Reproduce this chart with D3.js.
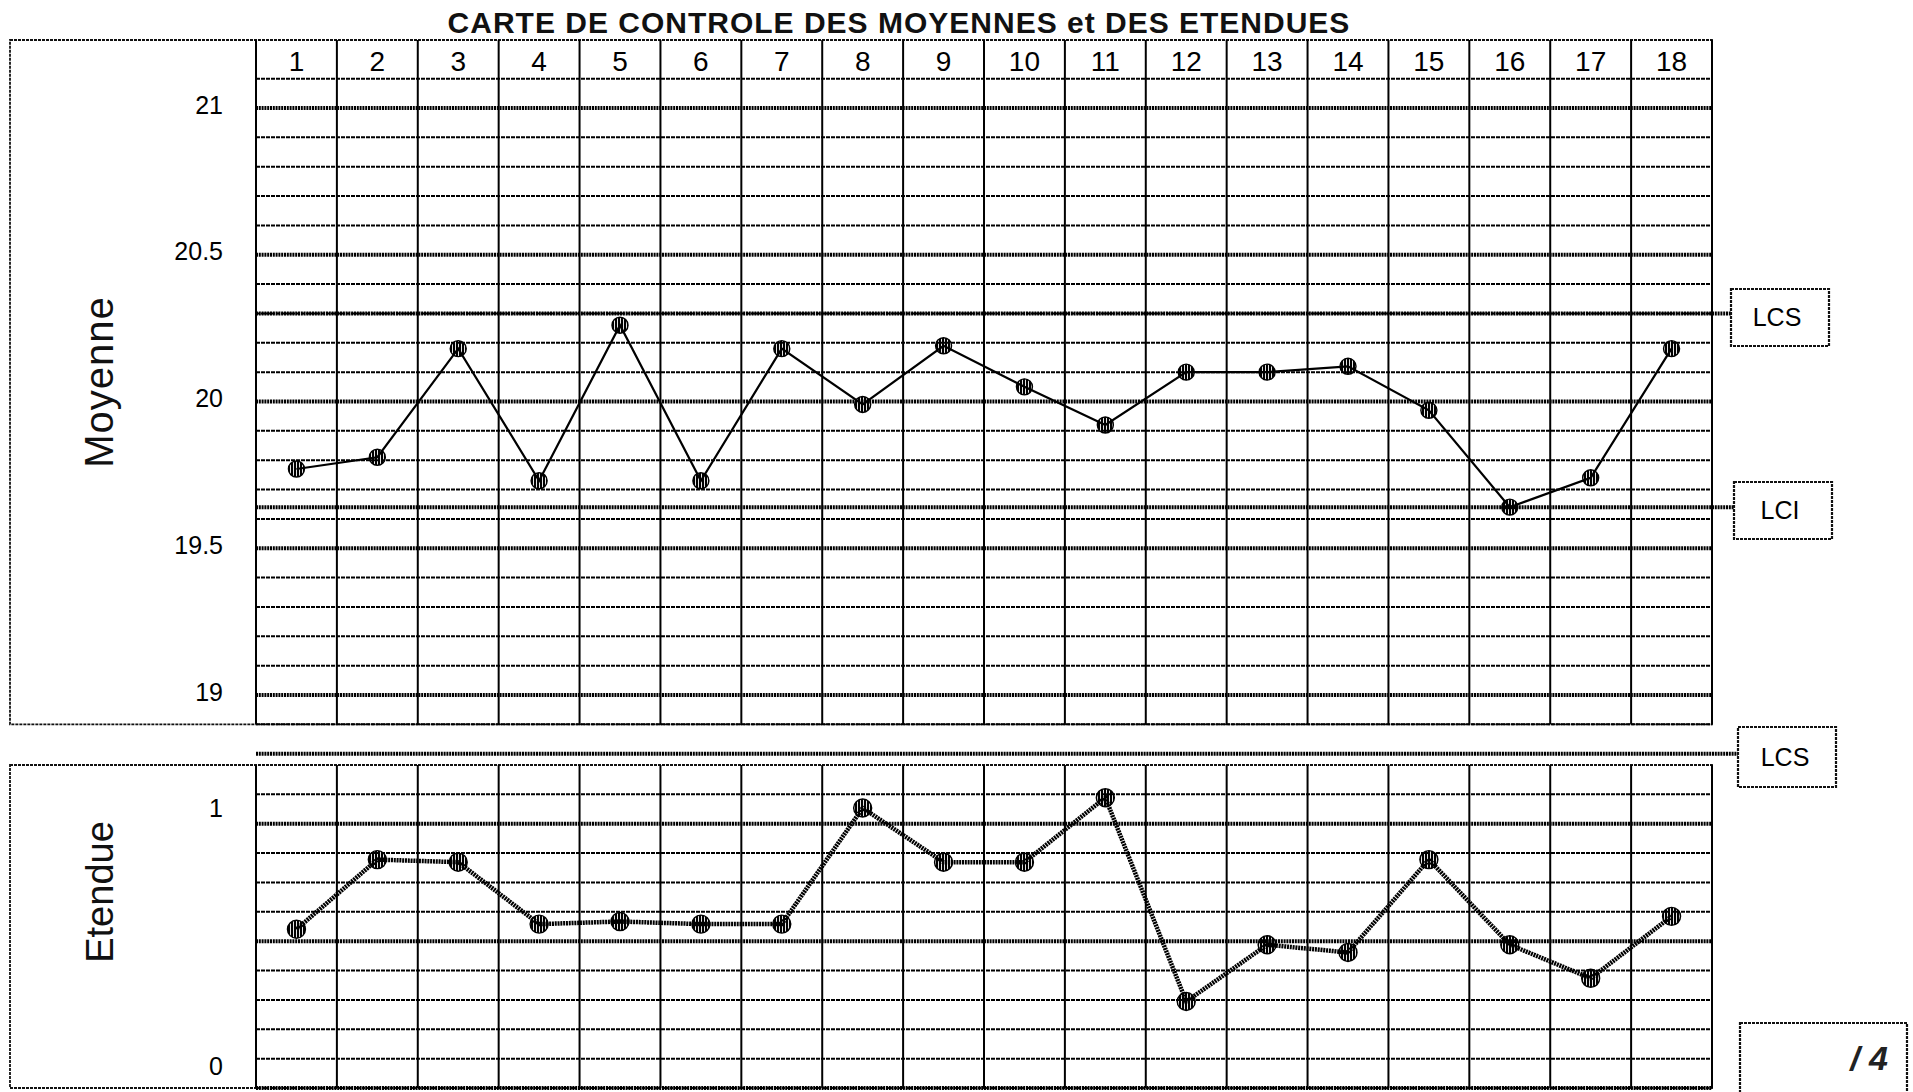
<!DOCTYPE html>
<html>
<head>
<meta charset="utf-8">
<script src="https://cdn.jsdelivr.net/npm/d3@7"></script>
<style>
  body { margin: 0; background: #fff; }
  svg { display: block; font-family: "Liberation Sans", Arial, sans-serif; }
</style>
</head>
<body>
<script>
// data
var samples = ['1', '2', '3', '4', '5', '6', '7', '8', '9', '10', '11', '12', '13', '14', '15', '16', '17', '18'];
var moyennes = [19.77, 19.81, 20.18, 19.73, 20.26, 19.73, 20.18, 19.99, 20.19, 20.05, 19.92, 20.10, 20.10, 20.12, 19.97, 19.64, 19.74, 20.18];
var etendues = [0.53, 0.80, 0.79, 0.55, 0.56, 0.55, 0.55, 1.00, 0.79, 0.79, 1.04, 0.25, 0.47, 0.44, 0.80, 0.47, 0.34, 0.58];
var moyTicks = [19, 19.5, 20, 20.5, 21];
var etTicks = [0, 1];
var lcsMoy = 20.3, lciMoy = 19.64;
var lcsEt = 1.21;
// printed form rows of the lower panel (index of the thick ones)
var etRows = 11;
var etThickRows = [2, 6, 11];

var width = 1913, height = 1092;
var gridLeft = 256, gridRight = 1712;

var svg = d3.select('body').append('svg')
    .attr('width', width)
    .attr('height', height);

// hatch used for the dots
var defs = svg.append('defs');
defs.append('pattern')
    .attr('id', 'hatch')
    .attr('patternUnits', 'userSpaceOnUse')
    .attr('width', 3).attr('height', 4)
    .append('rect')
    .attr('width', 2.1).attr('height', 4)
    .attr('fill', '#000');

var x = d3.scaleBand().domain(samples).range([gridLeft, gridRight]);
var yMoy = d3.scaleLinear().domain([19, 21]).range([695, 108]);
var yEt = d3.scaleLinear().domain([0, 1]).range([1066, 808]);
var yRow = d3.scaleLinear().domain([0, etRows]).range([765, 1088]);

function thick(sel) {
    return sel.attr('stroke', '#000').attr('stroke-width', 4).attr('stroke-dasharray', '2,0.8');
}
function thin(sel) {
    return sel.attr('stroke', '#000').attr('stroke-width', 2).attr('stroke-dasharray', '4,1');
}

// title
svg.append('text')
    .attr('x', 899).attr('y', 33)
    .attr('text-anchor', 'middle')
    .attr('font-size', 30).attr('font-weight', 'bold')
    .attr('fill', '#111')
    .attr('letter-spacing', 1)
    .text('CARTE DE CONTROLE DES MOYENNES et DES ETENDUES');

//////////////////////////// top panel : moyennes
var topPanel = svg.append('g');
var topY0 = 40, topY1 = yMoy(18.9);

topPanel.append('rect')
    .attr('x', 10).attr('y', topY0)
    .attr('width', gridRight - 10).attr('height', topY1 - topY0)
    .attr('fill', 'none').attr('stroke', '#111').attr('stroke-width', 1.8).attr('stroke-dasharray', '3,1');

// horizontal grid every 0.1, thick every 0.5
var moyGrid = d3.range(189, 212).map(function (v) { return v / 10; });
moyGrid.forEach(function (v) {
    var l = topPanel.append('line')
        .attr('x1', gridLeft).attr('x2', gridRight)
        .attr('y1', yMoy(v)).attr('y2', yMoy(v));
    if (Math.round(v * 10) % 5 == 0) thick(l); else thin(l);
});

// columns
x.domain().concat(['end']).forEach(function (s, i) {
    var xx = gridLeft + i * x.bandwidth();
    topPanel.append('line')
        .attr('x1', xx).attr('x2', xx)
        .attr('y1', topY0).attr('y2', topY1)
        .attr('stroke', '#000').attr('stroke-width', 2);
});

topPanel.append('g').selectAll('text').data(samples).join('text')
    .attr('x', function (d) { return x(d) + x.bandwidth() / 2; })
    .attr('y', 71)
    .attr('text-anchor', 'middle')
    .attr('font-size', 28)
    .text(function (d) { return d; });

topPanel.append('g').selectAll('text').data(moyTicks).join('text')
    .attr('x', 223)
    .attr('y', function (d) { return yMoy(d); })
    .attr('dy', '0.22em')
    .attr('text-anchor', 'end')
    .attr('font-size', 25)
    .text(function (d) { return d; });

topPanel.append('text')
    .attr('transform', 'translate(113,382) rotate(-90)')
    .attr('text-anchor', 'middle')
    .attr('font-size', 40)
    .attr('letter-spacing', 1)
    .attr('fill', '#111')
    .text('Moyenne');

// control limits
[[lcsMoy, 'LCS', 1731, 289], [lciMoy, 'LCI', 1734, 482]].forEach(function (c) {
    thick(topPanel.append('line')
        .attr('x1', gridLeft).attr('x2', c[2])
        .attr('y1', yMoy(c[0])).attr('y2', yMoy(c[0])));
    topPanel.append('rect')
        .attr('x', c[2]).attr('y', c[3]).attr('width', 98).attr('height', 57)
        .attr('fill', '#fff').attr('stroke', '#111').attr('stroke-width', 2.2).attr('stroke-dasharray', '3,1');
    topPanel.append('text')
        .attr('x', c[2] + 46).attr('y', c[3] + 37)
        .attr('text-anchor', 'middle')
        .attr('font-size', 25)
        .text(c[1]);
});

var lineMoy = d3.line()
    .x(function (d, i) { return x(samples[i]) + x.bandwidth() / 2; })
    .y(function (d) { return yMoy(d); });

topPanel.append('path')
    .datum(moyennes)
    .attr('d', lineMoy)
    .attr('fill', 'none').attr('stroke', '#000').attr('stroke-width', 2.2);

topPanel.append('g').selectAll('circle').data(moyennes).join('circle')
    .attr('cx', function (d, i) { return x(samples[i]) + x.bandwidth() / 2; })
    .attr('cy', function (d) { return yMoy(d); })
    .attr('r', 8)
    .attr('fill', 'url(#hatch)').attr('stroke', '#000').attr('stroke-width', 1.4);

//////////////////////////// bottom panel : etendues
var botPanel = svg.append('g');
var botY0 = yRow(0), botY1 = yRow(etRows);

botPanel.append('rect')
    .attr('x', 10).attr('y', botY0)
    .attr('width', gridRight - 10).attr('height', botY1 - botY0)
    .attr('fill', 'none').attr('stroke', '#111').attr('stroke-width', 1.8).attr('stroke-dasharray', '3,1');

d3.range(1, etRows + 1).forEach(function (r) {
    var l = botPanel.append('line')
        .attr('x1', gridLeft).attr('x2', gridRight)
        .attr('y1', yRow(r)).attr('y2', yRow(r));
    if (etThickRows.indexOf(r) >= 0) thick(l); else thin(l);
});

x.domain().concat(['end']).forEach(function (s, i) {
    var xx = gridLeft + i * x.bandwidth();
    botPanel.append('line')
        .attr('x1', xx).attr('x2', xx)
        .attr('y1', botY0).attr('y2', botY1)
        .attr('stroke', '#000').attr('stroke-width', 2);
});

botPanel.append('g').selectAll('text').data(etTicks).join('text')
    .attr('x', 223)
    .attr('y', function (d) { return yEt(d); })
    .attr('dy', '0.36em')
    .attr('text-anchor', 'end')
    .attr('font-size', 25)
    .text(function (d) { return d; });

botPanel.append('text')
    .attr('transform', 'translate(113,892) rotate(-90)')
    .attr('text-anchor', 'middle')
    .attr('font-size', 38)
    .attr('fill', '#111')
    .text('Etendue');

thick(botPanel.append('line')
    .attr('x1', gridLeft).attr('x2', 1738)
    .attr('y1', yEt(lcsEt)).attr('y2', yEt(lcsEt)));
botPanel.append('rect')
    .attr('x', 1738).attr('y', 727).attr('width', 98).attr('height', 60)
    .attr('fill', '#fff').attr('stroke', '#111').attr('stroke-width', 2.2).attr('stroke-dasharray', '3,1');
botPanel.append('text')
    .attr('x', 1785).attr('y', 766)
    .attr('text-anchor', 'middle')
    .attr('font-size', 25)
    .text('LCS');

var lineEt = d3.line()
    .x(function (d, i) { return x(samples[i]) + x.bandwidth() / 2; })
    .y(function (d) { return yEt(d); });

botPanel.append('path')
    .datum(etendues)
    .attr('d', lineEt)
    .attr('fill', 'none').attr('stroke', '#000').attr('stroke-width', 4.5).attr('stroke-dasharray', '2,0.8');

botPanel.append('g').selectAll('circle').data(etendues).join('circle')
    .attr('cx', function (d, i) { return x(samples[i]) + x.bandwidth() / 2; })
    .attr('cy', function (d) { return yEt(d); })
    .attr('r', 9)
    .attr('fill', 'url(#hatch)').attr('stroke', '#000').attr('stroke-width', 1.4);

// score box
svg.append('rect')
    .attr('x', 1740).attr('y', 1023).attr('width', 167).attr('height', 80)
    .attr('fill', 'none').attr('stroke', '#111').attr('stroke-width', 2.2).attr('stroke-dasharray', '3,1');
svg.append('text')
    .attr('x', 1888).attr('y', 1070)
    .attr('text-anchor', 'end')
    .attr('font-size', 34).attr('font-weight', 'bold').attr('font-style', 'italic')
    .attr('fill', '#222')
    .text('/ 4');
</script>
</body>
</html>
